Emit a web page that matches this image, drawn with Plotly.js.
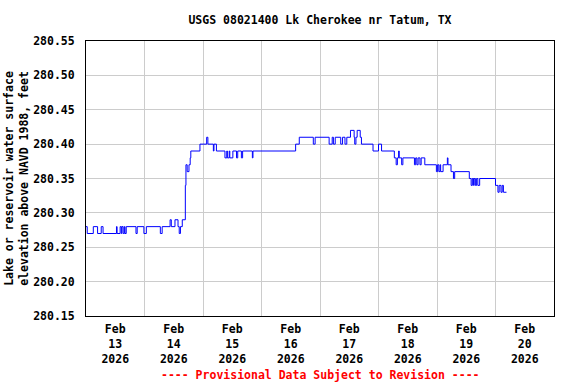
<!DOCTYPE html>
<html>
<head>
<meta charset="utf-8">
<script src="https://cdn.plot.ly/plotly-3.0.1.min.js"></script>
<style>
  html, body { margin: 0; padding: 0; background: #fff; }
  #chart { width: 576px; height: 384px; }
</style>
</head>
<body>
<div id="chart"></div>
<script>
// Hours elapsed since 2026-02-13 00:00 at which the gage reading changes
const hoursSinceStart = [
  0, 0.5, 3, 4.75, 6.25, 7, 12.5, 12.75, 14, 14.5, 14.75, 15.25, 15.75, 16, 16.5,
  20.5, 21, 23.75, 24.75, 30.5, 31.25, 34.5, 35, 36.5, 37.75, 38.25, 38.75, 39.5,
  40.75, 41, 41.5, 42.25, 42.75, 43, 46.75, 49.5, 50, 52.25, 52.5, 53.5,
  57, 57.75, 58, 58.75, 59, 60.25, 61.75, 62.25, 63.75, 64.25, 68.25, 68.5,
  86, 87.5, 93.25, 94, 99.75, 101, 101.5, 102.25, 104.5, 105.25, 106.25, 107,
  108.5, 110, 110.25, 110.75, 111.25, 112.5, 113, 117.75, 120, 121.25,
  126.5, 127.25, 127.75, 128.25, 128.5, 129.5, 130, 134.75, 135.25, 135.75, 136.25,
  137, 137.5, 139, 143.75, 144.25, 144.75, 145.25, 145.5, 146.5, 148.25, 148.5,
  149.75, 150.75, 151.25, 157.25, 158, 158.5, 159, 159.25, 159.75, 160.25, 160.75,
  161.5, 168, 169, 169.5, 170.25, 170.75, 171.25, 172.5
];
// Lake elevation, feet above NAVD 1988
const elevationFt = [
  280.28, 280.27, 280.28, 280.27, 280.28, 280.27, 280.28, 280.27, 280.28, 280.27, 280.28, 280.27, 280.28, 280.27, 280.28,
  280.27, 280.28, 280.27, 280.28, 280.27, 280.28, 280.29, 280.28, 280.29, 280.28, 280.27, 280.28, 280.29,
  280.34, 280.37, 280.36, 280.37, 280.38, 280.39, 280.40, 280.41, 280.40, 280.39, 280.40, 280.39,
  280.38, 280.39, 280.38, 280.39, 280.38, 280.39, 280.38, 280.39, 280.38, 280.39, 280.38, 280.39,
  280.40, 280.41, 280.40, 280.41, 280.40, 280.41, 280.40, 280.41, 280.40, 280.41, 280.40, 280.41,
  280.42, 280.41, 280.40, 280.41, 280.42, 280.41, 280.40, 280.39, 280.40, 280.39,
  280.38, 280.37, 280.38, 280.39, 280.38, 280.37, 280.38, 280.37, 280.38, 280.37, 280.38,
  280.37, 280.38, 280.37, 280.36, 280.37, 280.36, 280.37, 280.36, 280.37, 280.38, 280.37,
  280.36, 280.35, 280.36, 280.35, 280.34, 280.35, 280.34, 280.35, 280.34, 280.35, 280.34,
  280.35, 280.34, 280.33, 280.34, 280.33, 280.34, 280.33, 280.33
];
// Tick labels (centred on each day)
const tickDays = ['2026-02-13','2026-02-14','2026-02-15','2026-02-16','2026-02-17','2026-02-18','2026-02-19','2026-02-20'];
const tickMonth = ['Feb','Feb','Feb','Feb','Feb','Feb','Feb','Feb'];
const tickDayNum = ['13','14','15','16','17','18','19','20'];
const tickYear = ['2026','2026','2026','2026','2026','2026','2026','2026'];
const yTicks = [280.15, 280.20, 280.25, 280.30, 280.35, 280.40, 280.45, 280.50, 280.55];

const startMs = Date.UTC(2026, 1, 13, 0, 0, 0);
function fmt(ms) {
  return new Date(ms).toISOString().slice(0, 19).replace('T', ' ');
}
const times = hoursSinceStart.map(h => fmt(startMs + h * 3600e3));

const FONT = 'DejaVu Sans Mono, Liberation Mono, monospace';
const trace = {
  type: 'scatter', mode: 'lines', x: times, y: elevationFt,
  line: {color: '#0000ff', width: 1, shape: 'hv'},
  hoverinfo: 'skip'
};

const layout = {
  width: 576, height: 384,
  margin: {l: 86, r: 22, t: 41, b: 68},
  paper_bgcolor: '#ffffff', plot_bgcolor: '#ffffff',
  showlegend: false,
  font: {family: FONT, size: 11.5, color: '#000', weight: 'bold'},
  title: {
    text: 'USGS 08021400 Lk Cherokee nr Tatum, TX',
    font: {family: FONT, size: 11.5, color: '#000', weight: 'bold'},
    xref: 'paper', x: 0.5, xanchor: 'center',
    yref: 'container', y: 1 - 20 / 384, yanchor: 'middle'
  },
  xaxis: {
    type: 'date',
    range: ['2026-02-13 00:00:00', '2026-02-21 00:00:00'],
    tickmode: 'array',
    tickvals: tickDays.map(d => d + ' 12:00:00'),
    ticktext: tickDays.map((d, i) => tickMonth[i] + '<br>' + tickDayNum[i] + '<br>' + tickYear[i]),
    ticks: '', showgrid: false, zeroline: false,
    showline: true, mirror: true, linecolor: '#000', linewidth: 1,
    ticklabelstandoff: 2,
    tickfont: {family: FONT, size: 11.5, color: '#000', weight: 'bold'},
    minor: {tickmode: 'linear', tick0: '2026-02-13 00:00:00', dtick: 86400000, showgrid: true, gridcolor: '#cccccc', gridwidth: 1, ticks: ''}
  },
  yaxis: {
    range: [280.15, 280.55],
    tickmode: 'array', tickvals: yTicks, tickformat: '.2f',
    ticks: '', showgrid: true, gridcolor: '#cccccc', gridwidth: 1, zeroline: false,
    showline: true, mirror: true, linecolor: '#000', linewidth: 1,
    ticklabelstandoff: 8,
    tickfont: {family: FONT, size: 11.5, color: '#000', weight: 'bold'},
    title: {
      text: 'Lake or reservoir water surface<br>elevation above NAVD 1988, feet',
      font: {family: FONT, size: 11.5, color: '#000', weight: 'bold'},
      standoff: 2
    }
  },
  annotations: [{
    text: '---- Provisional Data Subject to Revision ----',
    xref: 'paper', yref: 'paper', x: 0.5, y: -(375 - 316) / 275,
    xanchor: 'center', yanchor: 'middle', showarrow: false,
    font: {family: FONT, size: 11.5, color: '#ff0000', weight: 'bold'}
  }]
};

Plotly.newPlot('chart', [trace], layout, {displayModeBar: false, staticPlot: true});
</script>
</body>
</html>
